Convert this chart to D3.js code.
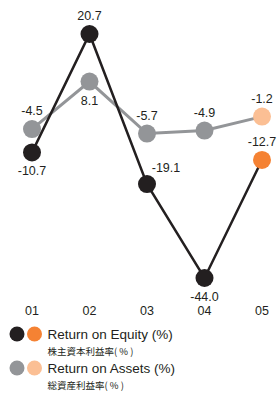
<!DOCTYPE html>
<html>
<head>
<meta charset="utf-8">
<script src="https://cdn.jsdelivr.net/npm/d3@7"></script>
<style>
  body { margin: 0; background: #fff; }
  text { font-family: "Liberation Sans", Arial, sans-serif; fill: #231f20; }
  .jp { font-family: "Noto Sans CJK JP", sans-serif; }
</style>
</head>
<body>
<svg width="279" height="394"></svg>
<script>
var years = ["01", "02", "03", "04", "05"];
var roe = [-10.7, 20.7, -19.1, -44.0, -12.7];
var roa = [-4.5, 8.1, -5.7, -4.9, -1.2];
// where each value label sits: above / below / right
var roeLabelPos = ["below", "above", "right", "below", "above"];
var roaLabelPos = ["above", "below", "above", "above", "above"];

var svg = d3.select("svg");

let x = d3.scalePoint()
  .domain(years)
  .range([32, 262]);

let y = d3.scaleLinear()
  .domain([-44.0, 20.7])
  .range([278, 34]);

let line = d3.line()
  .x(function (d, i) { return x(years[i]) })
  .y(function (d) { return y(d) });

function drawSeries(values, lineColor, lineWidth, dotColor, lastColor, labelPos) {
  svg.append("path")
    .datum(values)
    .attr("d", line)
    .attr("fill", "none")
    .attr("stroke", lineColor)
    .attr("stroke-width", lineWidth);

  svg.selectAll(null).data(values)
    .enter().append("circle")
    .attr("cx", function (d, i) { return x(years[i]) })
    .attr("cy", function (d) { return y(d) })
    .attr("r", 9)
    .attr("fill", function (d, i) { return i == values.length - 1 ? lastColor : dotColor });

  svg.selectAll(null).data(values)
    .enter().append("text")
    .attr("x", function (d, i) {
      return labelPos[i] == "right" ? x(years[i]) + 19 : x(years[i]);
    })
    .attr("y", function (d, i) {
      if (labelPos[i] == "above") return y(d) - 14;
      if (labelPos[i] == "below") return y(d) + 23;
      return y(d) - 12;
    })
    .attr("text-anchor", "middle")
    .attr("font-size", 12.5)
    .text(function (d) { return d.toFixed(1) });
}

drawSeries(roa, "#939598", 3, "#939598", "#fbbf94", roaLabelPos);
drawSeries(roe, "#231f20", 2.5, "#231f20", "#f58233", roeLabelPos);

// year labels
let xAxis = svg.append("g")
  .attr("transform", "translate(0,315)");
xAxis.selectAll("text").data(years)
  .enter().append("text")
  .attr("x", function (d) { return x(d) })
  .attr("text-anchor", "middle")
  .attr("font-size", 12.5)
  .text(function (d) { return d });

// legend
var legendItems = [
  { en: "Return on Equity (%)", jp: "株主資本利益率( % )", colors: ["#231f20", "#f58233"] },
  { en: "Return on Assets (%)", jp: "総資産利益率( % )", colors: ["#939598", "#fbbf94"] }
];

let legend = svg.selectAll(".legend").data(legendItems)
  .enter().append("g")
  .attr("class", "legend")
  .attr("transform", function (d, i) { return "translate(0," + (334 + i * 34) + ")" });

legend.selectAll("circle")
  .data(function (d) { return d.colors })
  .enter().append("circle")
  .attr("cx", function (d, i) { return 17 + i * 17.5 })
  .attr("cy", 0)
  .attr("r", 7.5)
  .attr("fill", function (d) { return d });

legend.append("text")
  .attr("x", 47.5)
  .attr("y", 5)
  .attr("font-size", 13.5)
  .text(function (d) { return d.en });

legend.append("text")
  .attr("class", "jp")
  .attr("x", 47.5)
  .attr("y", 20.5)
  .attr("font-size", 9.5)
  .text(function (d) { return d.jp });
</script>
</body>
</html>
